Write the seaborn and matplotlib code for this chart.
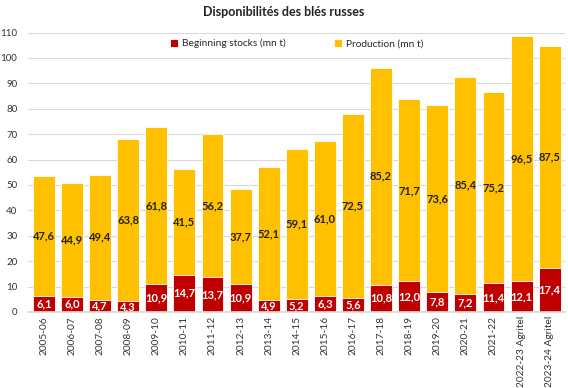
import matplotlib
import matplotlib.pyplot as plt
import numpy as np
import pandas as pd
import seaborn as sns

matplotlib.use('Agg')

# data
seasons = ["2005-06", "2006-07", "2007-08", "2008-09", "2009-10", "2010-11",
           "2011-12", "2012-13", "2013-14", "2014-15", "2015-16", "2016-17",
           "2017-18", "2018-19", "2019-20", "2020-21", "2021-22",
           "2022-23 Agritel", "2023-24 Agritel"]
stocks = [6.1, 6.0, 4.7, 4.3, 10.9, 14.7, 13.7, 10.9, 4.9, 5.2, 6.3, 5.6,
          10.8, 12.0, 7.8, 7.2, 11.4, 12.1, 17.4]
production = [47.6, 44.9, 49.4, 63.8, 61.8, 41.5, 56.2, 37.7, 52.1, 59.1, 61.0,
              72.5, 85.2, 71.7, 73.6, 85.4, 75.2, 96.5, 87.5]

RED = "#C00000"
YELLOW = "#FFC000"

df = pd.DataFrame({"season": seasons, "stocks": stocks, "production": production})
df["total"] = df["stocks"] + df["production"]

sns.set_theme(style="white")
plt.rcParams['font.family'] = ['Lato', 'DejaVu Sans']

fig = plt.figure(figsize=(5.68, 3.88), dpi=100)
ax = fig.add_axes([0.05, 0.196, 0.945, 0.72])

# stacked bars: totals first (yellow), then stocks over them (red)
sns.barplot(data=df, x="season", y="total", color=YELLOW, width=0.78,
            edgecolor="white", linewidth=0.6, saturation=1, ax=ax,
            label="Production (mn t)")
sns.barplot(data=df, x="season", y="stocks", color=RED, width=0.78,
            edgecolor="white", linewidth=0.6, saturation=1, ax=ax,
            label="Beginning stocks (mn t)")

# value labels (decimal comma)
for i, row in df.iterrows():
    s = f"{row['stocks']:.1f}".replace(".", ",")
    p = f"{row['production']:.1f}".replace(".", ",")
    ax.text(i, row["stocks"] / 2, s, ha="center", va="center",
            color="white", fontsize=8, fontweight="bold")
    ax.text(i, row["stocks"] + row["production"] / 2, p, ha="center",
            va="center", color="#222222", fontsize=8, fontweight="bold")

ax.set_ylim(0, 110)
ax.set_xlim(-0.55, len(seasons) - 0.45)
ax.set_yticks(range(0, 111, 10))
ax.yaxis.grid(True, color="#D9D9D9", linewidth=0.8)
ax.set_axisbelow(True)
for sp in ["top", "right", "left"]:
    ax.spines[sp].set_visible(False)
ax.spines["bottom"].set_color("#D9D9D9")
ax.tick_params(axis="y", labelsize=7, colors="#333333", length=0, pad=8)
ax.tick_params(axis="x", labelsize=7.3, colors="#333333", length=0, rotation=90, pad=3)
ax.set_xlabel("")
ax.set_ylabel("")

handles, labels = ax.get_legend_handles_labels()
ax.legend(handles[::-1], labels[::-1], loc="upper center", ncol=2, frameon=False,
          fontsize=7.3, handlelength=0.8, handleheight=0.8, handletextpad=0.4,
          columnspacing=4.8, bbox_to_anchor=(0.5, 1.01))

fig.suptitle("Disponibilités des blés russes", fontsize=9, fontweight="bold",
             y=0.985, color="#222222")

fig.savefig("out.png", dpi=100)
